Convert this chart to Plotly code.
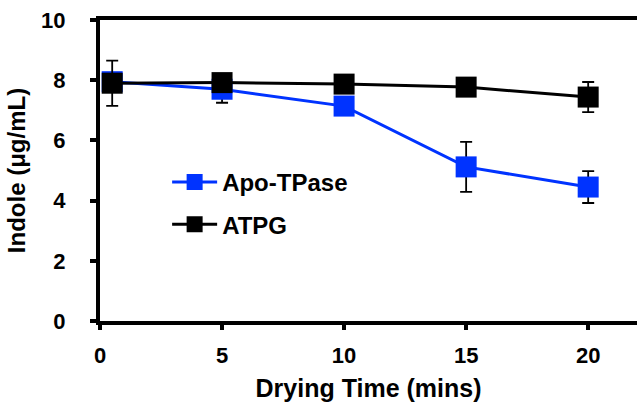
import plotly.graph_objects as go

# Drying time (minutes)
drying_time = [0.5, 5, 10, 15, 20]

# Indole concentration (ug/mL) with standard deviations
apo_tpase = [7.95, 7.7, 7.14, 5.12, 4.45]
apo_tpase_err = [0.0, 0.45, 0.0, 0.83, 0.53]
atpg = [7.9, 7.92, 7.87, 7.77, 7.44]
atpg_err = [0.75, 0.0, 0.0, 0.0, 0.5]

x_ticks = [0, 5, 10, 15, 20]
y_ticks = [0, 2, 4, 6, 8, 10]

FONT = "Liberation Sans, Arial, sans-serif"
BLUE = "#0033FF"

fig = go.Figure()

fig.add_trace(go.Scatter(
    x=drying_time, y=apo_tpase, name="Apo-TPase", mode="lines+markers",
    line=dict(color=BLUE, width=3),
    marker=dict(symbol="square", size=21, color=BLUE),
    error_y=dict(type="data", array=apo_tpase_err, color="black", thickness=1.8, width=6),
    legendgroup="a",
))
fig.add_trace(go.Scatter(
    x=drying_time, y=atpg, name="ATPG", mode="lines+markers",
    line=dict(color="black", width=3),
    marker=dict(symbol="square", size=21, color="black"),
    error_y=dict(type="data", array=atpg_err, color="black", thickness=1.8, width=6),
    legendgroup="b",
))

fig.update_layout(
    width=637, height=406,
    margin=dict(l=100, r=0, t=20, b=85),
    paper_bgcolor="white", plot_bgcolor="white",
    font=dict(family=FONT, color="black"),
    legend=dict(
        x=0.125, y=0.535, xanchor="left", yanchor="top",
        bgcolor="rgba(0,0,0,0)",
        font=dict(family=FONT, size=24, color="black", weight="bold"),
        tracegroupgap=8, itemwidth=45,
    ),
    xaxis=dict(
        range=[0, 22], tickvals=x_ticks,
        showgrid=False, zeroline=False,
        showline=True, linecolor="black", linewidth=4, mirror=True,
        ticks="outside", ticklen=5, tickwidth=4, tickcolor="black",
        ticklabelstandoff=7,
        tickfont=dict(family=FONT, size=22, color="black", weight="bold"),
        title=dict(text="Drying Time (mins)", standoff=13,
                   font=dict(family=FONT, size=25, color="black", weight="bold")),
    ),
    yaxis=dict(
        range=[0, 10], tickvals=y_ticks,
        showgrid=False, zeroline=False,
        showline=True, linecolor="black", linewidth=4,
        ticks="outside", ticklen=6, tickwidth=4, tickcolor="black",
        ticklabelstandoff=20,
        tickfont=dict(family=FONT, size=22, color="black", weight="bold"),
        title=dict(text="Indole (μg/mL)", standoff=10,
                   font=dict(family=FONT, size=24, color="black", weight="bold")),
    ),
)

fig.write_html("out.html")
